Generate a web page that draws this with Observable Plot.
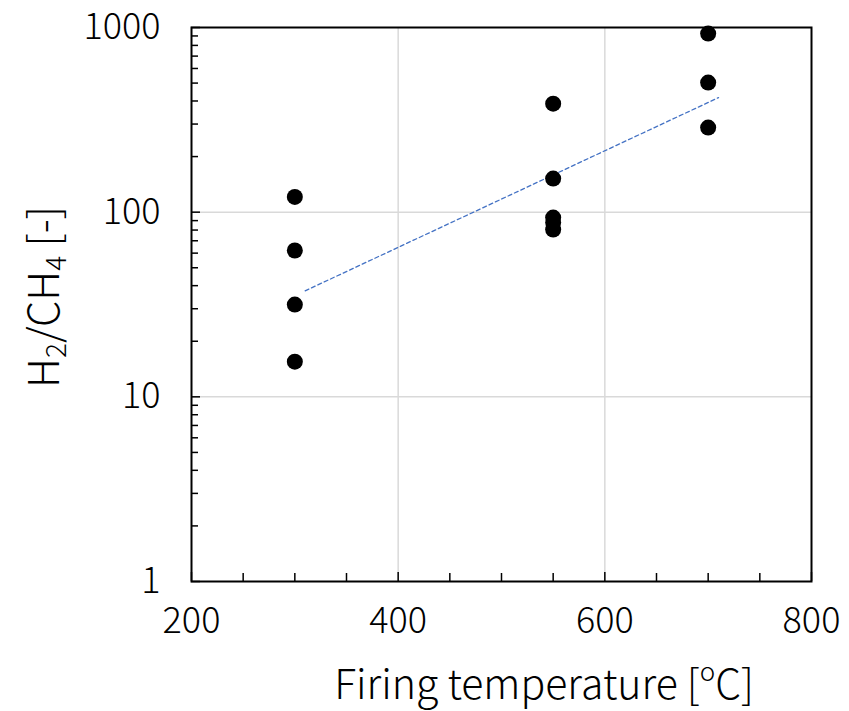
<!DOCTYPE html>
<html>
<head>
<meta charset="utf-8">
<script src="https://cdn.jsdelivr.net/npm/d3@7"></script>
<script src="https://cdn.jsdelivr.net/npm/@observablehq/plot@0.6"></script>
<style>
  body { margin: 0; background: #fff; }
  #chart svg { font-family: "Noto Sans CJK SC", "Noto Sans", sans-serif; overflow: visible; }
  #chart svg g[aria-label$="tick label"] text { font-size: 36px !important; font-weight: 300; }
</style>
</head>
<body>
<div id="chart"></div>
<script>
// Data
const temps300 = [300, 300, 300, 300];
const ratio300 = [121, 62, 31.6, 15.5];
const temps550 = [550, 550, 550, 550, 550];
const ratio550 = [387, 152, 93.5, 88, 80.5];
const temps700 = [700, 700, 700];
const ratio700 = [927, 503, 287];
const trendX = [310, 710];
const trendY = [37.5, 417];
const xMajorTicks = [200, 400, 600, 800];
const xMinorTicks = [250, 300, 350, 450, 500, 550, 650, 700, 750];
const yMajorTicks = [1, 10, 100, 1000];
const yMinorTicks = [2,3,4,5,6,7,8,9,20,30,40,50,60,70,80,90,200,300,400,500,600,700,800,900];
const xGrid = [400, 600];
const yGrid = [10, 100];

const points = [
  ...temps300.map((t, i) => ({t, r: ratio300[i]})),
  ...temps550.map((t, i) => ({t, r: ratio550[i]})),
  ...temps700.map((t, i) => ({t, r: ratio700[i]}))
];
const trend = trendX.map((t, i) => ({t, r: trendY[i]}));

const chart = Plot.plot({
  width: 849,
  height: 711,
  marginLeft: 191,
  marginRight: 38,
  marginTop: 27,
  marginBottom: 130,
  style: {fontFamily: "Noto Sans CJK SC", color: "#000", background: "#fff"},
  x: {domain: [200, 800]},
  y: {type: "log", domain: [1, 1000]},
  marks: [
    Plot.ruleX(xGrid, {stroke: "#d9d9d9", strokeWidth: 1.5}),
    Plot.ruleY(yGrid, {stroke: "#d9d9d9", strokeWidth: 1.5}),
    Plot.axisX({ticks: xMinorTicks, tickSize: -8, tickFormat: () => "", label: null, strokeWidth: 1.5}),
    Plot.axisX({ticks: xMajorTicks, tickSize: -9, tickFormat: () => "", label: null, strokeWidth: 1.5}),
    Plot.axisX({ticks: xMajorTicks, tickSize: 0, tickPadding: 26, label: null}),
    Plot.axisY({ticks: yMinorTicks, tickSize: -7, tickFormat: () => "", label: null, strokeWidth: 1.5}),
    Plot.axisY({ticks: yMajorTicks, tickSize: -9, tickFormat: () => "", label: null, strokeWidth: 1.5}),
    Plot.axisY({ticks: yMajorTicks, tickSize: 0, tickPadding: 31, label: null, tickFormat: d => String(d)}),
    Plot.frame({stroke: "#000", strokeWidth: 2}),
    Plot.line(trend, {x: "t", y: "r", stroke: "#4472C4", strokeWidth: 1.3, strokeDasharray: "4,3"}),
    Plot.dot(points, {x: "t", y: "r", r: 8, fill: "#000", stroke: "none"})
  ]
});
document.getElementById("chart").appendChild(chart);

// Axis titles with sub/superscripts
const svg = d3.select(chart);
const xt = svg.append("text")
  .attr("x", 544).attr("y", 699)
  .attr("text-anchor", "middle")
  .attr("font-size", 41)
  .attr("font-weight", 300)
  .attr("font-family", "Noto Sans CJK SC")
  .attr("fill", "#000");
xt.append("tspan").text("Firing temperature [");
xt.append("tspan").attr("baseline-shift", "super").attr("font-size", 26).text("o");
xt.append("tspan").text("C]");

const yt = svg.append("text")
  .attr("transform", "translate(59,297) rotate(-90)")
  .attr("text-anchor", "middle")
  .attr("font-size", 42)
  .attr("font-weight", 300)
  .attr("font-family", "Noto Sans CJK SC")
  .attr("fill", "#000");
yt.append("tspan").text("H");
yt.append("tspan").attr("baseline-shift", "-25%").attr("font-size", 28).text("2");
yt.append("tspan").text("/CH");
yt.append("tspan").attr("baseline-shift", "-25%").attr("font-size", 28).text("4");
yt.append("tspan").text(" [-]");
</script>
</body>
</html>
